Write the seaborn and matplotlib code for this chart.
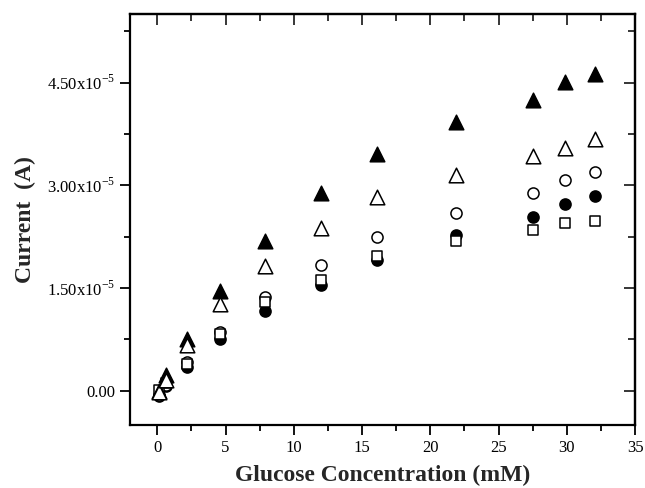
import numpy as np
import pandas as pd
import seaborn as sns
import matplotlib.pyplot as plt
from matplotlib.ticker import MultipleLocator, FixedLocator, NullFormatter

# glucose concentration (mM), shared by all series
conc = [0.1, 0.6, 2.2, 4.6, 7.9, 12.0, 16.1, 21.9, 27.5, 29.9, 32.1]

# currents in units of 1e-5 A
filled_tri = [-0.01, 0.23, 0.76, 1.46, 2.18, 2.88, 3.46, 3.93, 4.25, 4.51, 4.63]
open_tri = [-0.02, 0.16, 0.67, 1.26, 1.82, 2.38, 2.83, 3.15, 3.42, 3.54, 3.67]
open_circ = [-0.06, 0.09, 0.42, 0.86, 1.37, 1.84, 2.24, 2.60, 2.89, 3.07, 3.20]
filled_circ = [-0.07, 0.07, 0.35, 0.76, 1.17, 1.55, 1.91, 2.28, 2.54, 2.72, 2.84]
open_sq = [0.01, 0.12, 0.39, 0.83, 1.30, 1.62, 1.96, 2.19, 2.35, 2.45, 2.48]

y_ticks = [0.0, 1.5e-5, 3.0e-5, 4.5e-5]
y_tick_labels = ['0.00', r'1.50x10$^{-5}$', r'3.00x10$^{-5}$', r'4.50x10$^{-5}$']

sns.set_theme(style="ticks")
plt.rcParams['font.family'] = ['Liberation Serif', 'DejaVu Serif']
plt.rcParams['mathtext.fontset'] = 'custom'
plt.rcParams['mathtext.rm'] = 'Liberation Serif'

fig = plt.figure(figsize=(6.45, 4.88), dpi=100)
ax = fig.add_axes([0.2016, 0.1291, 0.7829, 0.8422])

# (values, marker, facecolor, size) in drawing order
series = [
    (filled_circ, 'o', 'black', 8),
    (open_circ, 'o', 'white', 8),
    (open_sq, 's', 'white', 7.5),
    (filled_tri, '^', 'black', 10.5),
    (open_tri, '^', 'white', 10.5),
]
for vals, mk, fc, ms in series:
    df = pd.DataFrame({'conc': conc, 'current': np.array(vals) * 1e-5})
    sns.scatterplot(data=df, x='conc', y='current', marker=mk, s=ms ** 2,
                    facecolor=fc, edgecolor='black', linewidth=1.1, ax=ax,
                    legend=False, zorder=3)

ax.set_xlim(-2, 35)
ax.set_ylim(-0.5e-5, 5.5e-5)
ax.xaxis.set_major_locator(MultipleLocator(5))
ax.xaxis.set_minor_locator(MultipleLocator(2.5))
ax.yaxis.set_major_locator(FixedLocator(y_ticks))
ax.yaxis.set_minor_locator(MultipleLocator(0.75e-5))
ax.set_yticklabels(y_tick_labels)

ax.tick_params(which='both', direction='out', width=1.3, labelsize=12,
               colors='black')
ax.tick_params(which='major', length=7)
ax.tick_params(which='minor', length=4)
for sp in ax.spines.values():
    sp.set_linewidth(1.6)
    sp.set_color('black')

# inward ticks on top and right, no labels
top = ax.secondary_xaxis('top')
top.xaxis.set_major_locator(MultipleLocator(5))
top.xaxis.set_minor_locator(MultipleLocator(2.5))
top.xaxis.set_major_formatter(NullFormatter())
top.tick_params(which='both', direction='in', width=1.3)
top.tick_params(which='major', length=8)
top.tick_params(which='minor', length=5)
top.spines['top'].set_linewidth(1.6)

right = ax.secondary_yaxis('right')
right.yaxis.set_major_locator(FixedLocator(y_ticks))
right.yaxis.set_minor_locator(MultipleLocator(0.75e-5))
right.yaxis.set_major_formatter(NullFormatter())
right.tick_params(which='both', direction='in', width=1.3)
right.tick_params(which='major', length=8)
right.tick_params(which='minor', length=5)
right.spines['right'].set_linewidth(1.6)

ax.set_xlabel('Glucose Concentration (mM)', fontsize=17, fontweight='bold',
              labelpad=6.5)
ax.set_ylabel('Current  (A)', fontsize=17, fontweight='bold', labelpad=8)

fig.savefig('out.png', dpi=100)
